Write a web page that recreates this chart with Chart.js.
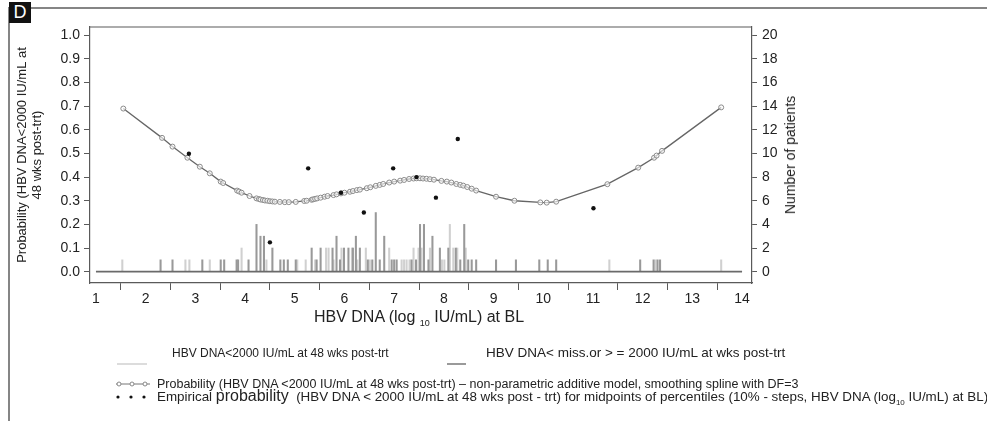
<!DOCTYPE html>
<html>
<head>
<meta charset="utf-8">
<script src="https://cdn.jsdelivr.net/npm/chart.js@4.4.0/dist/chart.umd.min.js"></script>
<style>
  body { margin: 0; background: #fff; }
  #wrap { position: relative; width: 987px; height: 421px; overflow: hidden; font-family: "Liberation Sans", Arial, sans-serif; color: #222; }
  #chart { position: absolute; left: 0; top: 0; }
  .abs { position: absolute; white-space: nowrap; }
  .leg { font-size: 12.5px; line-height: 14px; }
</style>
</head>
<body>
<div id="wrap">
  <canvas id="chart" width="987" height="421"></canvas>

  <div class="abs" style="left:9px;top:7px;width:978px;border-top:2px solid #858585;"></div>
  <div class="abs" style="left:8px;top:7px;height:414px;border-left:2px solid #858585;"></div>
  <div class="abs" style="left:9px;top:2px;width:22px;height:21px;background:#111;color:#fff;font-size:18px;line-height:21px;text-align:center;">D</div>

  <div class="abs" style="left:290px;top:308px;width:258px;text-align:center;font-size:16px;">HBV DNA (log <sub style="font-size:9px;">10</sub> IU/mL) at BL</div>
  <div class="abs" style="left:790px;top:155px;font-size:14px;transform:translate(-50%,-50%) rotate(-90deg);">Number of patients</div>

  <div class="abs" style="left:117px;top:363px;width:30px;border-top:2px solid #dcdcdc;"></div>
  <div class="abs leg" style="left:172px;top:346px;font-size:12px;">HBV DNA&lt;2000 IU/mL at 48 wks post-trt</div>
  <div class="abs" style="left:447px;top:363px;width:19px;border-top:2px solid #9a9a9a;"></div>
  <div class="abs leg" style="left:486px;top:346px;font-size:13.5px;">HBV DNA&lt; miss.or &gt; = 2000 IU/mL at wks post-trt</div>

  <svg class="abs" style="left:112px;top:378px;" width="42" height="28">
    <line x1="4" y1="6" x2="38" y2="6" stroke="#777" stroke-width="1"/>
    <circle cx="7" cy="6" r="2" fill="#fff" stroke="#888"/>
    <circle cx="20" cy="6" r="2" fill="#fff" stroke="#888"/>
    <circle cx="33" cy="6" r="2" fill="#fff" stroke="#888"/>
    <circle cx="6" cy="19" r="1.6" fill="#111"/>
    <circle cx="19" cy="19" r="1.6" fill="#111"/>
    <circle cx="32" cy="19" r="1.6" fill="#111"/>
  </svg>
  <div class="abs leg" style="left:157px;top:377px;">Probability (HBV DNA &lt;2000 IU/mL at 48 wks post-trt) – non-parametric additive model, smoothing spline with DF=3</div>
  <div class="abs leg" style="left:157px;top:389px;font-size:13.4px;">Empirical <span style="font-size:16px;">probability</span>&nbsp; (HBV DNA &lt; 2000 IU/mL at 48 wks post - trt) for midpoints of percentiles (10% - steps, HBV DNA (log<sub style="font-size:8px;">10</sub> IU/mL) at BL)</div>
</div>

<script>
// fitted spline at patient baseline values
const curveX = [1.55, 2.33, 2.54, 2.84, 3.09, 3.29, 3.51, 3.56, 3.84, 3.88, 3.93, 4.09, 4.23, 4.28, 4.31, 4.36, 4.40, 4.45, 4.50, 4.55, 4.60, 4.70, 4.80, 4.88, 5.02, 5.19, 5.24, 5.34, 5.37, 5.41, 5.45, 5.52, 5.60, 5.66, 5.78, 5.84, 5.93, 6.00, 6.11, 6.17, 6.25, 6.31, 6.45, 6.52, 6.63, 6.71, 6.78, 6.90, 7.00, 7.12, 7.20, 7.30, 7.39, 7.45, 7.52, 7.58, 7.65, 7.72, 7.80, 7.95, 8.06, 8.15, 8.25, 8.33, 8.39, 8.47, 8.56, 8.65, 9.05, 9.42, 9.94, 10.07, 10.26, 11.29, 11.91, 12.23, 12.28, 12.39, 13.58];
const curveP = [0.690, 0.566, 0.529, 0.482, 0.444, 0.416, 0.381, 0.375, 0.343, 0.339, 0.334, 0.320, 0.310, 0.307, 0.305, 0.303, 0.301, 0.300, 0.298, 0.297, 0.296, 0.295, 0.294, 0.294, 0.295, 0.299, 0.300, 0.304, 0.306, 0.308, 0.310, 0.313, 0.317, 0.320, 0.324, 0.327, 0.331, 0.334, 0.338, 0.341, 0.345, 0.347, 0.353, 0.357, 0.363, 0.367, 0.371, 0.377, 0.381, 0.385, 0.388, 0.392, 0.394, 0.395, 0.395, 0.394, 0.393, 0.391, 0.389, 0.384, 0.381, 0.377, 0.371, 0.367, 0.364, 0.358, 0.351, 0.343, 0.317, 0.300, 0.293, 0.292, 0.296, 0.370, 0.440, 0.482, 0.491, 0.511, 0.695];

// empirical probability at percentile midpoints
const empX = [2.87, 4.50, 5.27, 5.93, 6.39, 6.98, 7.45, 7.84, 8.28, 11.01];
const empP = [0.499, 0.124, 0.437, 0.334, 0.250, 0.437, 0.400, 0.313, 0.561, 0.268];

// patients with HBV DNA<2000 at 48 wks post-trt (light bars)
const respX = [1.53, 2.80, 2.88, 3.29, 3.93, 4.43, 5.05, 5.22, 5.41, 5.63, 5.68, 5.78, 5.94, 6.15, 6.26, 6.43, 6.51, 6.90, 7.15, 7.20, 7.25, 7.31, 7.39, 7.49, 7.55, 7.72, 7.96, 8.01, 8.12, 8.19, 8.27, 8.44, 11.33, 12.26, 13.58];
const respN = [1, 1, 1, 1, 2, 1, 1, 1, 1, 2, 2, 1, 2, 2, 1, 2, 1, 2, 1, 1, 1, 1, 2, 2, 2, 2, 1, 1, 4, 2, 2, 2, 1, 1, 1];

// patients missing or >= 2000 (dark bars)
const nonX = [2.30, 2.54, 3.14, 3.51, 3.58, 3.83, 3.86, 4.07, 4.23, 4.31, 4.38, 4.55, 4.71, 4.78, 4.86, 5.02, 5.34, 5.44, 5.52, 5.76, 5.84, 5.91, 5.99, 6.08, 6.17, 6.23, 6.31, 6.47, 6.56, 6.63, 6.71, 6.80, 6.95, 7.00, 7.05, 7.35, 7.44, 7.52, 7.60, 7.69, 7.77, 7.92, 8.09, 8.24, 8.33, 8.41, 8.49, 8.56, 8.65, 9.05, 9.45, 9.92, 10.09, 10.26, 11.95, 12.22, 12.30, 12.35];
const nonN = [1, 1, 1, 1, 1, 1, 1, 1, 4, 3, 3, 2, 1, 1, 1, 1, 2, 1, 2, 2, 3, 1, 2, 2, 2, 3, 2, 1, 1, 5, 1, 3, 1, 1, 1, 1, 1, 4, 4, 1, 3, 2, 2, 2, 1, 4, 1, 1, 1, 1, 1, 1, 1, 1, 1, 1, 1, 1];

const baseX = [1, 14];
const xTicks = [1, 2, 3, 4, 5, 6, 7, 8, 9, 10, 11, 12, 13, 14];
const pTicks = [0, 0.1, 0.2, 0.3, 0.4, 0.5, 0.6, 0.7, 0.8, 0.9, 1.0];
const nTicks = [0, 2, 4, 6, 8, 10, 12, 14, 16, 18, 20];

const toPts = (xs, ys) => xs.map((x, i) => ({ x: x, y: ys[i] }));
const axisColor = "#5a5a5a";
const tickFont = { family: "Liberation Sans", size: 14 };

const frameTop = {
  id: "frameTop",
  afterDraw(chart) {
    const { ctx, chartArea } = chart;
    ctx.save();
    ctx.strokeStyle = axisColor;
    ctx.lineWidth = 1.2;
    ctx.beginPath();
    ctx.moveTo(chartArea.left, chartArea.top);
    ctx.lineTo(chartArea.right, chartArea.top);
    ctx.stroke();
    ctx.restore();
  },
};

new Chart(document.getElementById("chart"), {
  type: "bar",
  data: {
    datasets: [
      {
        type: "line",
        data: toPts(curveX, curveP),
        yAxisID: "y",
        borderColor: "#666",
        borderWidth: 1.3,
        pointRadius: 2.5,
        pointBackgroundColor: "rgba(255,255,255,0.6)",
        pointBorderColor: "#8a8a8a",
        pointBorderWidth: 1,
        order: 1,
      },
      {
        type: "scatter",
        data: toPts(empX, empP),
        yAxisID: "y",
        pointRadius: 2.2,
        pointBackgroundColor: "#111",
        pointBorderWidth: 0,
        order: 0,
      },
      {
        type: "line",
        data: toPts(baseX, [0, 0]),
        yAxisID: "y2",
        borderColor: "#6a6a6a",
        borderWidth: 1.6,
        pointRadius: 0,
        order: 2,
      },
      {
        data: toPts(respX, respN),
        yAxisID: "y2",
        backgroundColor: "#d0d0d0",
        barThickness: 1.4,
        grouped: false,
        order: 4,
      },
      {
        data: toPts(nonX, nonN),
        yAxisID: "y2",
        backgroundColor: "#999",
        barThickness: 1.4,
        grouped: false,
        order: 3,
      },
    ],
  },
  options: {
    responsive: false,
    animation: false,
    layout: { padding: { left: 10, right: 185, top: 27, bottom: 88 } },
    plugins: { legend: { display: false }, tooltip: { enabled: false } },
    scales: {
      x: {
        type: "linear",
        position: "bottom",
        min: 0.88,
        max: 14.2,
        offset: false,
        grid: { drawOnChartArea: false, drawTicks: true, tickLength: 7, color: axisColor },
        border: { color: axisColor, width: 1.2 },
        ticks: { font: tickFont, color: "#222", padding: 1, maxRotation: 0 },
        afterBuildTicks: (s) => { s.ticks = xTicks.map((v) => ({ value: v })); },
        afterFit: (s) => { s.height = 50; },
      },
      y: {
        position: "left",
        min: -0.048,
        max: 1.035,
        grid: { drawOnChartArea: false, drawTicks: true, tickLength: 6, color: axisColor },
        border: { color: axisColor, width: 1.2 },
        ticks: { font: tickFont, color: "#222", padding: 4, callback: (v) => v.toFixed(1) },
        afterBuildTicks: (s) => { s.ticks = pTicks.map((v) => ({ value: v })); },
        afterFit: (s) => { s.width = 80; },
        title: {
          display: true,
          text: ["Probability (HBV DNA<2000 IU/mL at", "48 wks post-trt)"],
          font: { family: "Liberation Sans", size: 13, lineHeight: 1.15 },
          color: "#222",
          padding: { top: 5, bottom: 0 },
        },
      },
      y2: {
        position: "right",
        min: -0.96,
        max: 20.7,
        grid: { drawOnChartArea: false, drawTicks: true, tickLength: 5, color: axisColor },
        border: { color: axisColor, width: 1.2 },
        ticks: { font: tickFont, color: "#222", padding: 5 },
        afterBuildTicks: (s) => { s.ticks = nTicks.map((v) => ({ value: v })); },
        afterFit: (s) => { s.width = 50; },
      },
    },
  },
  plugins: [frameTop],
});
</script>
</body>
</html>
